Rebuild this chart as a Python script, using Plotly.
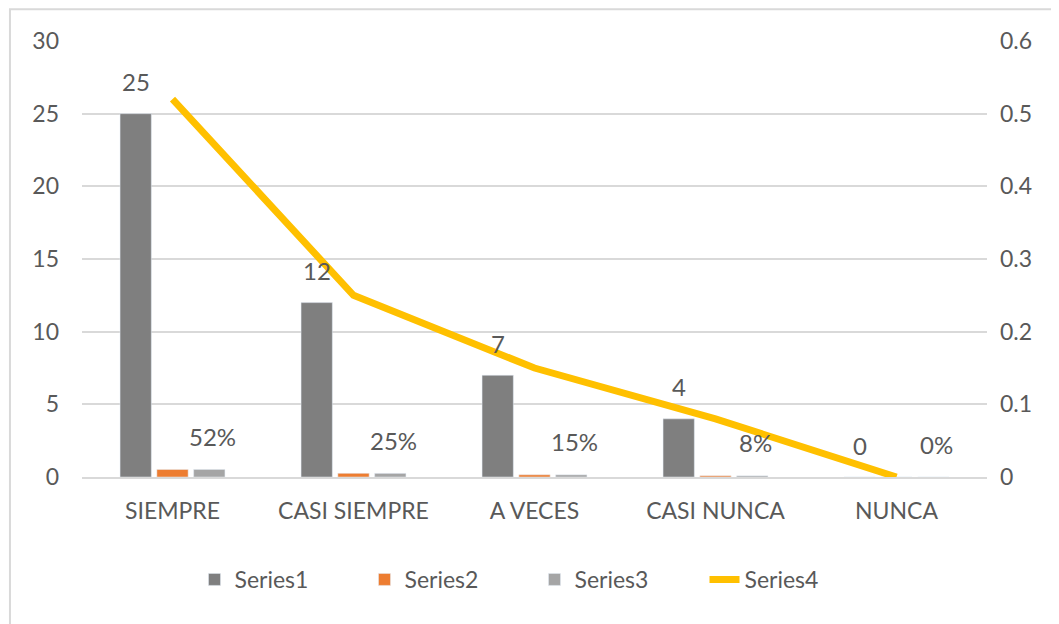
import plotly.graph_objects as go

categories = ["SIEMPRE", "CASI SIEMPRE", "A VECES", "CASI NUNCA", "NUNCA"]
series1 = [25, 12, 7, 4, 0]
series2 = [0.52, 0.25, 0.15, 0.08, 0]
series3 = [0.52, 0.25, 0.15, 0.08, 0]
series4 = [0.52, 0.25, 0.15, 0.08, 0]
y1_ticks = [0, 5, 10, 15, 20, 25, 30]
y2_ticks = [0, 0.1, 0.2, 0.3, 0.4, 0.5, 0.6]
y2_ticktext = ["0", "0.1", "0.2", "0.3", "0.4", "0.5", "0.6"]

FONT = "Lato, Noto Sans, sans-serif"
TXT = "#595959"
FS = 23
FL = 24

fig = go.Figure()
fig.add_trace(go.Bar(x=categories, y=series1, name="Series1", marker_color="#7F7F7F"))
fig.add_trace(go.Bar(x=categories, y=series2, name="Series2", marker_color="#ED7D31"))
fig.add_trace(go.Bar(x=categories, y=series3, name="Series3", marker_color="#A5A5A5"))
fig.add_trace(go.Scatter(x=categories, y=series4, name="Series4", yaxis="y2", mode="lines",
                         line=dict(color="#FFC000", width=7)))

slot_px = 36.8
annotations = []
for c, v in zip(categories, series1):
    annotations.append(dict(x=c, y=v, xref="x", yref="y", text=str(v), showarrow=False,
                            xshift=-slot_px, yshift=32, font=dict(size=FL, color=TXT, family=FONT)))
for c, v in zip(categories, series3):
    annotations.append(dict(x=c, y=v, xref="x", yref="y", text=f"{round(v*100)}%", showarrow=False,
                            xshift=slot_px + 3, yshift=33, font=dict(size=FL, color=TXT, family=FONT)))

# page body has an 8px margin: compensate in figure size and margins
fig.update_layout(
    width=1051, height=616,
    margin=dict(l=74, r=72, t=33, b=147),
    paper_bgcolor="white", plot_bgcolor="white",
    barmode="group", bargap=0.39, bargroupgap=0.15,
    font=dict(family=FONT, size=FS, color=TXT),
    xaxis=dict(showgrid=False, showline=True, linecolor="#D9D9D9", linewidth=2,
               ticks="", ticklabelstandoff=12, tickfont=dict(size=FS, color=TXT)),
    yaxis=dict(range=[0, 30], tickvals=y1_ticks, showgrid=True, gridcolor="#D9D9D9", gridwidth=2,
               zeroline=False, showline=False, ticks="", ticklabelstandoff=22,
               tickfont=dict(size=FS, color=TXT)),
    yaxis2=dict(range=[0, 0.6], tickvals=y2_ticks, ticktext=y2_ticktext, overlaying="y", side="right",
                showgrid=False, zeroline=False, showline=False, ticks="", ticklabelstandoff=12,
                tickfont=dict(size=FS, color=TXT)),
    legend=dict(orientation="h", x=0.5, xanchor="center", y=-0.235, yanchor="middle",
                font=dict(size=FS, color=TXT), traceorder="normal", entrywidth=125),
    annotations=annotations,
    shapes=[dict(type="rect", xref="paper", yref="paper", x0=-0.0796, x1=1.09, y0=-0.36, y1=1.073,
                 line=dict(color="#D9D9D9", width=2), fillcolor="rgba(0,0,0,0)", layer="below")],
)

fig.write_html("out.html")
